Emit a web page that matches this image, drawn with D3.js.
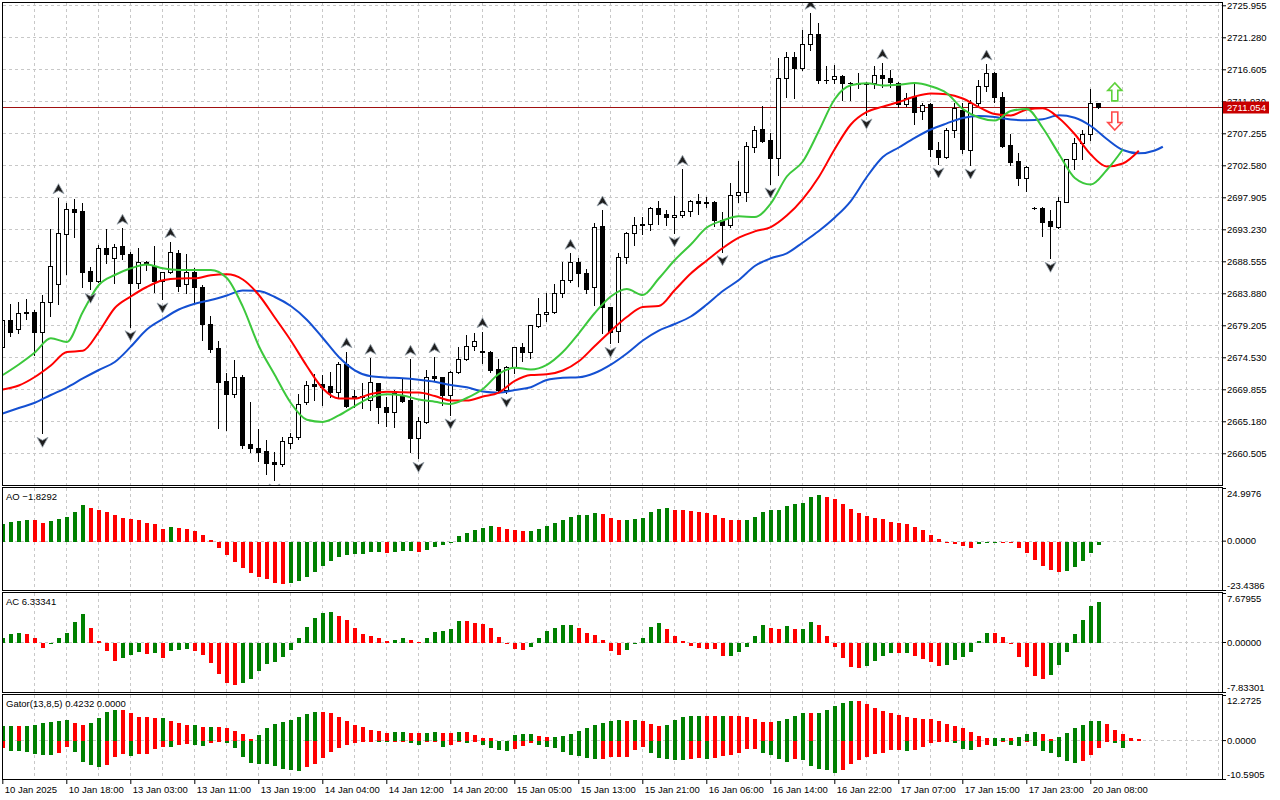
<!DOCTYPE html>
<html>
<head>
<meta charset="utf-8">
<script src="https://cdn.jsdelivr.net/npm/d3@7"></script>
<style>
html, body { margin: 0; padding: 0; background: #fff; }
svg { display: block; font-family: "Liberation Sans", Arial, sans-serif; }
</style>
</head>
<body>
<svg id="chart" width="1280" height="800"></svg>
<script>
// XAUUSD H1 – candles, Alligator, Fractals, AO, AC, Gator

var open = [2676.08,2679.98,2678.62,2681.19,2681.19,2678.27,2682.56,2685.19,2692.50,2696.15,
  2695.90,2687.14,2685.72,2690.45,2688.99,2690.79,2689.58,2685.43,2688.26,2687.91,
  2685.68,2686.95,2689.72,2685.19,2686.95,2684.76,2679.35,2675.84,2671.11,2669.12,
  2671.61,2661.82,2661.23,2660.84,2659.28,2658.90,2661.96,2662.93,2667.95,2670.58,
  2670.63,2670.38,2669.50,2673.55,2668.87,2668.77,2668.29,2670.73,2667.22,2666.58,
  2669.02,2668.29,2662.78,2665.12,2671.80,2671.61,2669.02,2672.34,2674.24,2676.22,
  2675.45,2675.35,2672.78,2669.75,2673.16,2675.99,2675.35,2679.15,2680.85,2681.19,
  2683.88,2685.82,2688.41,2686.80,2684.76,2693.71,2681.83,2678.41,2689.14,2692.64,
  2693.96,2693.96,2696.30,2695.42,2694.98,2695.32,2695.95,2697.36,2697.26,2697.26,
  2694.59,2693.86,2698.24,2698.72,2705.30,2707.88,2706.28,2703.60,2715.29,2718.36,
  2716.84,2720.30,2721.76,2715.09,2715.14,2715.67,2714.56,2714.56,2714.60,2714.65,
  2715.77,2715.29,2714.65,2711.54,2712.51,2710.51,2711.49,2704.81,2703.84,2707.74,
  2710.66,2704.81,2711.64,2714.21,2716.11,2712.51,2705.50,2703.21,2700.68,2696.39,
  2696.30,2694.44,2693.61,2697.26,2703.46,2705.88,2707.11,2711.64];

var high = [2680.27,2682.27,2682.56,2683.00,2681.44,2683.63,2693.23,2697.85,2697.03,2697.61,
  2697.03,2687.77,2690.94,2693.23,2691.08,2693.38,2689.96,2690.45,2688.64,2690.79,
  2687.04,2691.42,2690.20,2689.58,2687.62,2685.09,2680.61,2676.95,2672.19,2674.13,
  2671.94,2667.95,2664.05,2662.45,2660.74,2662.93,2663.42,2669.17,2671.07,2672.09,
  2671.94,2672.43,2673.89,2675.35,2669.75,2670.73,2674.38,2670.77,2668.77,2669.75,
  2671.46,2674.24,2665.85,2672.68,2674.62,2671.69,2672.57,2676.08,2677.79,2678.03,
  2678.27,2675.49,2674.24,2673.26,2676.08,2676.66,2679.25,2683.15,2683.97,2685.24,
  2688.50,2689.72,2688.99,2687.43,2694.19,2696.05,2681.92,2689.72,2692.88,2695.07,
  2694.98,2696.53,2697.36,2696.05,2698.09,2702.00,2697.51,2698.39,2697.90,2697.36,
  2695.80,2699.95,2703.21,2706.03,2708.32,2711.24,2707.25,2718.21,2719.09,2719.18,
  2722.35,2724.79,2723.33,2717.13,2717.23,2715.77,2714.79,2716.11,2714.79,2717.09,
  2717.53,2716.50,2714.79,2713.19,2714.56,2711.64,2711.64,2706.03,2707.99,2711.64,
  2711.64,2712.12,2715.04,2717.38,2716.25,2713.24,2707.11,2704.33,2702.48,2696.53,
  2696.44,2696.05,2697.90,2703.50,2706.52,2707.74,2713.68,2711.64];

var low = [2675.89,2677.68,2678.03,2680.12,2674.86,2663.42,2680.61,2682.27,2686.65,2692.15,
  2684.84,2684.46,2685.53,2688.35,2685.34,2688.85,2679.00,2684.61,2687.28,2684.11,
  2683.05,2686.89,2684.21,2683.88,2682.56,2677.06,2675.35,2664.16,2663.91,2668.77,
  2661.23,2660.74,2659.38,2657.44,2656.60,2658.69,2661.23,2662.55,2667.66,2668.29,
  2667.56,2668.77,2668.77,2667.31,2667.31,2667.08,2666.83,2664.89,2664.49,2664.39,
  2668.04,2660.74,2659.77,2664.97,2671.22,2667.56,2666.10,2672.19,2674.13,2675.60,
  2673.65,2672.43,2669.50,2669.27,2672.19,2674.03,2674.38,2679.00,2679.83,2681.05,
  2683.38,2685.57,2684.99,2683.97,2682.17,2678.12,2676.57,2676.81,2688.35,2690.94,
  2692.50,2693.13,2693.96,2693.86,2692.73,2695.07,2695.17,2695.46,2696.53,2693.71,
  2689.96,2693.52,2697.26,2697.41,2704.57,2706.03,2699.85,2701.16,2712.60,2712.37,
  2716.50,2719.42,2714.65,2714.65,2714.65,2712.12,2712.12,2713.83,2709.93,2713.83,
  2713.98,2713.98,2711.14,2711.24,2708.61,2709.30,2703.94,2702.77,2703.60,2706.76,
  2704.42,2702.62,2711.39,2713.48,2711.87,2705.30,2702.62,2699.70,2698.87,2696.20,
  2692.29,2688.99,2693.46,2697.26,2702.00,2703.46,2706.28,2710.91];

var close = [2679.98,2678.27,2680.96,2680.96,2678.27,2682.56,2687.91,2692.64,2696.15,2695.80,
  2687.04,2685.72,2690.45,2689.58,2690.69,2689.58,2685.43,2688.41,2688.45,2685.68,
  2686.95,2689.87,2684.99,2686.95,2684.76,2679.35,2675.74,2670.96,2669.12,2671.69,
  2661.72,2661.23,2660.74,2659.13,2658.90,2662.30,2662.93,2667.66,2670.48,2670.34,
  2670.23,2669.50,2673.55,2667.41,2668.54,2668.83,2670.88,2667.22,2666.58,2669.27,
  2668.19,2662.78,2665.22,2671.61,2671.46,2669.02,2672.34,2674.24,2676.22,2676.95,
  2675.30,2672.68,2669.75,2673.16,2675.99,2675.35,2679.25,2680.85,2681.19,2683.88,
  2685.82,2688.41,2686.80,2684.46,2693.61,2681.83,2678.27,2689.14,2692.64,2693.86,
  2693.81,2696.30,2695.42,2694.98,2695.32,2695.90,2697.36,2697.03,2697.03,2694.59,
  2693.86,2698.24,2698.72,2705.40,2707.74,2706.17,2703.60,2715.29,2718.36,2716.75,
  2720.26,2721.76,2715.04,2715.04,2715.67,2714.56,2714.53,2714.50,2714.50,2715.77,
  2715.29,2714.71,2711.54,2712.46,2710.41,2711.39,2704.92,2703.84,2707.74,2710.91,
  2704.92,2711.64,2714.21,2716.02,2712.51,2705.40,2703.11,2700.68,2702.29,2696.39,
  2694.34,2693.71,2697.41,2703.50,2705.88,2707.11,2711.64,2711.054];

// Alligator lines, read every 2 bars (lips shifted 3, teeth 5, jaw 8)
var lineStep = 2;
var lips = [2671.94,2673.48,2675.23,2677.30,2676.76,2681.15,2685.09,2686.55,2687.53,2688.09,
  2687.53,2687.28,2687.28,2687.28,2686.11,2681.92,2676.18,2671.94,2667.85,2665.40,
  2665.08,2666.03,2667.41,2668.68,2669.12,2668.95,2668.36,2668.03,2667.71,2668.58,
  2669.90,2672.09,2673.01,2672.75,2673.43,2675.30,2678.03,2681.00,2683.41,2684.50,
  2683.63,2686.04,2688.74,2691.01,2693.49,2694.51,2695.13,2695.02,2697.00,2700.94,
  2703.13,2707.59,2712.26,2714.26,2714.56,2714.24,2714.35,2714.60,2714.12,2713.11,
  2710.80,2709.56,2709.12,2710.51,2710.80,2708.03,2704.26,2700.72,2699.77,2701.89,
  2704.89];
var teeth = [2669.82,2670.41,2671.65,2673.33,2675.30,2675.48,2678.22,2681.73,2683.41,2684.80,
  2685.78,2686.05,2686.07,2686.51,2686.65,2685.89,2683.63,2680.34,2676.98,2673.26,
  2669.97,2668.52,2668.49,2669.17,2669.49,2669.41,2669.38,2668.87,2668.22,2668.20,
  2668.80,2669.38,2671.07,2671.94,2672.04,2672.60,2673.94,2676.18,2678.37,2680.41,
  2681.87,2682.02,2684.36,2686.77,2688.67,2690.49,2692.00,2692.92,2693.56,2695.24,
  2697.65,2700.87,2704.96,2708.54,2710.38,2711.15,2711.82,2712.63,2713.07,2712.95,
  2712.34,2711.09,2710.07,2709.85,2710.73,2710.90,2709.49,2707.11,2704.15,2702.40,
  2702.84,2704.71];
var jaw = [2666.32,2667.12,2667.88,2669.02,2670.11,2671.43,2672.67,2673.84,2676.08,2678.59,
  2680.12,2681.51,2682.36,2682.90,2683.56,2684.29,2684.21,2683.34,2682.02,2680.02,
  2677.35,2674.57,2672.63,2671.75,2671.58,2671.46,2671.24,2670.95,2670.48,2670.15,
  2669.53,2669.36,2669.75,2670.15,2671.21,2671.53,2671.61,2672.23,2673.45,2675.08,
  2676.98,2678.44,2679.39,2680.49,2682.24,2684.21,2685.82,2687.87,2688.99,2689.71,
  2691.30,2692.98,2694.95,2697.36,2700.87,2703.79,2705.18,2706.60,2707.81,2708.70,
  2709.49,2709.78,2709.63,2709.27,2709.15,2709.30,2709.88,2709.53,2708.32,2706.42,
  2704.81,2704.33,2704.74];
var jawLastBar = 145, jawLast = 2705.29;

var fractalUp = [7,15,21,43,46,51,54,60,71,75,85,101,110,123];
var fractalDown = [5,11,16,20,34,52,56,63,76,84,90,96,108,117,121,131];

var ao = [7.8,9.0,9.5,9.8,9.6,8.5,9.3,10.3,11.4,13.7,
  16.7,15.7,14.7,13.7,12.1,10.9,10.3,9.6,8.2,7.7,
  5.7,6.4,5.9,5.4,4.4,2.9,0.5,-2.8,-6.5,-9.8,
  -12.6,-15.0,-16.7,-17.6,-19.6,-19.9,-19.7,-18.5,-16.8,-14.2,
  -11.8,-9.3,-7.4,-6.2,-5.9,-5.7,-4.9,-4.8,-5.4,-4.9,
  -4.4,-4.3,-4.9,-3.8,-2.5,-1.5,-0.5,2.0,3.6,4.9,
  5.9,6.9,6.4,5.7,4.9,4.4,4.5,5.7,7.0,8.5,
  9.8,11.4,12.1,12.4,12.9,12.7,10.9,9.8,9.9,10.3,
  10.9,13.4,15.2,15.3,14.7,14.6,14.2,13.7,13.2,12.4,
  10.9,9.8,9.7,9.8,11.4,13.7,14.4,14.7,16.5,17.2,
  18.1,20.8,21.6,20.8,19.6,17.6,15.2,13.2,11.9,10.8,
  10.1,9.0,8.5,7.8,6.5,4.9,2.9,1.0,-0.1,-1.3,
  -2.1,-2.8,-1.3,-0.3,-0.1,-0.3,-0.8,-2.8,-5.6,-8.7,
  -11.4,-13.6,-14.4,-13.9,-11.9,-9.2,-5.2,-1.8292];

var ac = [0.58,1.27,1.42,1.27,0.58,-0.74,-0.21,0.58,1.42,3.1,
  4.43,2.21,0.1,-1.27,-2.85,-2.32,-1.90,-1.48,-1.69,-1.58,
  -2.32,-1.27,-1.11,-0.95,-1.27,-1.9,-3.11,-4.85,-6.33,-6.65,
  -6.33,-5.7,-4.43,-3.27,-3.01,-2.21,-1.11,0.58,2.37,3.8,
  4.59,4.64,4.11,3.48,2.21,1.27,1.0,0.63,0.16,0.32,
  0.63,0.32,0.02,0.58,1.58,1.69,2.06,3.32,3.30,2.95,
  2.85,2.16,0.79,-0.02,-1.0,-1.02,-0.58,0.63,1.69,2.21,
  2.69,2.70,2.21,1.42,1.11,0.32,-1.27,-1.9,-1.05,-0.16,
  0.58,2.37,2.95,2.06,0.95,0.1,-0.53,-0.84,-0.9,-1.0,
  -2.06,-2.0,-1.37,-0.58,0.95,2.69,2.21,2.06,2.53,2.06,
  2.1,3.16,2.69,0.95,-0.58,-2.32,-3.8,-3.9,-3.64,-2.85,
  -2.0,-1.53,-1.58,-1.55,-2.0,-2.48,-3.0,-3.64,-3.48,-2.69,
  -2.16,-1.37,0.1,1.37,1.36,0.74,-0.21,-2.16,-3.8,-5.22,
  -5.7,-5.06,-3.48,-1.37,1.27,3.48,5.7,6.33341];

var gatorUp = [3.72,3.73,3.70,3.9,4.0,4.56,4.93,5.11,5.39,4.74,
  4.0,4.56,6.04,7.53,8.15,8.1,7.25,6.23,6.2,5.95,
  5.97,5.11,4.74,4.0,4.02,3.53,3.55,3.44,3.16,2.51,
  1.67,0.37,1.49,3.16,4.28,4.83,5.39,6.23,7.07,7.62,
  7.6,7.35,6.23,5.11,4.0,3.44,2.88,2.6,2.05,2.32,
  2.33,2.05,2.04,2.06,2.32,2.05,2.04,2.32,2.30,1.49,
  0.65,0.64,0,0,1.49,1.77,1.78,1.21,0.93,0.95,
  1.21,1.77,2.6,3.16,4.0,4.56,5.11,5.39,5.11,5.4,
  5.11,4.28,3.72,4.0,5.39,6.23,6.51,6.52,6.5,6.49,
  6.5,6.49,6.48,6.23,5.67,4.83,4.82,5.11,5.67,6.51,
  7.35,7.34,7.35,8.18,9.3,10.13,10.69,10.68,9.86,8.74,
  7.9,7.35,6.79,6.23,5.95,5.67,5.66,5.11,4.28,3.72,
  3.16,2.32,1.21,0.65,0.66,0.67,0.65,0.93,1.77,2.32,
  1.77,0.37,0.93,2.05,3.16,4.0,5.11,5.12,4.28,2.88,
  1.77,0.65,0.4232];

var gatorDown = [-1.95,-2.6,-2.62,-2.88,-3.53,-3.81,-3.83,-3.25,-1.49,-3.07,
  -5.77,-6.6,-7.07,-6.6,-4.46,-3.63,-4.0,-3.53,-3.5,-2.05,
  -1.49,-1.5,-1.12,-0.74,-0.93,-1.21,-0.65,-0.1,-0.56,-1.95,
  -4.28,-6.04,-6.32,-6.33,-6.79,-7.53,-7.81,-8.18,-6.97,-6.32,
  -4.56,-2.88,-1.77,-0.93,-0.65,-0.1,-0.08,-0.19,-0.37,-0.1,
  -0.09,-0.65,-0.93,-0.37,-0.36,-1.49,-0.93,-0.37,-0.65,-0.1,
  -0.93,-1.77,-2.32,-2.6,-2.14,-1.21,-0.65,-0.93,-1.49,-1.77,
  -2.88,-3.72,-4.0,-4.56,-4.84,-4.83,-4.28,-4.27,-4.26,-2.32,
  -1.49,-3.16,-4.56,-4.84,-5.11,-5.12,-4.84,-4.56,-4.84,-4.56,
  -4.0,-3.72,-3.16,-2.05,-2.04,-3.16,-3.72,-4.84,-5.67,-4.84,
  -5.11,-6.79,-7.62,-7.9,-8.74,-7.9,-6.23,-5.11,-4.28,-3.44,
  -3.16,-2.32,-2.31,-2.6,-2.32,-1.49,-0.65,-0.1,-0.05,-0.65,
  -2.05,-2.32,-1.49,-0.93,-1.21,-0.1,-0.93,-1.21,-0.1,-1.21,
  -2.6,-3.16,-4.28,-5.39,-5.95,-5.39,-3.72,-1.77,-0.37,-0.65,
  -1.77];

var priceTicks = [2660.505,2665.180,2669.855,2674.530,2679.205,2683.880,2688.555,2693.230,
  2697.905,2702.580,2707.255,2711.930,2716.605,2721.280,2725.955];
var priceMin = 2655.87, priceMax = 2726.29;
var lastPrice = 2711.054;

var timeLabels = ["10 Jan 2025","10 Jan 18:00","13 Jan 03:00","13 Jan 11:00","13 Jan 19:00",
  "14 Jan 04:00","14 Jan 12:00","14 Jan 20:00","15 Jan 05:00","15 Jan 13:00","15 Jan 21:00",
  "16 Jan 06:00","16 Jan 14:00","16 Jan 22:00","17 Jan 07:00","17 Jan 15:00","17 Jan 23:00",
  "20 Jan 08:00"];
var barsPerLabel = 8;

var aoRange = [-23.4386, 24.9976], aoTicks = ["24.9976","0.0000","-23.4386"];
var acRange = [-7.83301, 7.67955], acTicks = ["7.67955","0.00000","-7.83301"];
var gatorRange = [-10.5905, 12.2725], gatorTicks = ["12.2725","0.0000","-10.5905"];

var signalBar = 139, buyArrowPrice = 2713.3, sellArrowPrice = 2709.05;

// ---------------------------------------------------------------
var svg = d3.select('#chart');
var left = 2.5, right = 1222;
var GREEN = '#008000', RED = '#ff0000';
var grid = '#c8c8c8';

var x = d3.scaleLinear().domain([0, 152]).range([2.3, 1218.3]);
function px(i) { return Math.round(x(i)); }

var panels = [
  {id: 'main', top: 3, bottom: 485},
  {id: 'ao', top: 488, bottom: 590},
  {id: 'ac', top: 593, bottom: 692},
  {id: 'gator', top: 695, bottom: 779}
];

var defs = svg.append('defs');
panels.forEach(function(p) {
  defs.append('clipPath').attr('id', 'clip-' + p.id)
    .append('rect').attr('x', left).attr('y', p.top)
    .attr('width', right - left).attr('height', p.bottom - p.top);
});

// vertical grid every 4 bars in all panels
var vGrid = d3.range(4, 153, 4).filter(function(i) { return x(i) < right - 1; });
panels.forEach(function(p) {
  svg.append('g').selectAll('line').data(vGrid).enter().append('line')
    .attr('x1', function(d) { return px(d) + 0.5; })
    .attr('x2', function(d) { return px(d) + 0.5; })
    .attr('y1', p.top).attr('y2', p.bottom)
    .attr('stroke', grid).attr('stroke-dasharray', '3,3')
    .attr('shape-rendering', 'crispEdges');
});

// ---------------- main panel ----------------
var y = d3.scaleLinear().domain([priceMin, priceMax]).range([485, 3]);

svg.append('g').selectAll('line').data(priceTicks).enter().append('line')
  .attr('x1', left).attr('x2', right)
  .attr('y1', function(d) { return Math.round(y(d)) + 0.5; })
  .attr('y2', function(d) { return Math.round(y(d)) + 0.5; })
  .attr('stroke', grid).attr('stroke-dasharray', '3,3')
  .attr('shape-rendering', 'crispEdges');

var main = svg.append('g').attr('clip-path', 'url(#clip-main)');

// last price line
main.append('line')
  .attr('x1', left).attr('x2', right)
  .attr('y1', Math.round(y(lastPrice)) + 0.5).attr('y2', Math.round(y(lastPrice)) + 0.5)
  .attr('stroke', '#a01010').attr('stroke-width', 1)
  .attr('shape-rendering', 'crispEdges');

var candles = main.append('g').attr('shape-rendering', 'crispEdges');
open.forEach(function(o, i) {
  var c = close[i], cx = px(i);
  candles.append('line')
    .attr('x1', cx + 0.5).attr('x2', cx + 0.5)
    .attr('y1', Math.round(y(high[i]))).attr('y2', Math.round(y(low[i])) + 1)
    .attr('stroke', '#000');
  var yt = Math.round(y(Math.max(o, c))), yb = Math.round(y(Math.min(o, c)));
  if (yb - yt < 1) {
    candles.append('line')
      .attr('x1', cx - 2).attr('x2', cx + 3)
      .attr('y1', yt + 0.5).attr('y2', yt + 0.5)
      .attr('stroke', '#000');
  } else {
    candles.append('rect')
      .attr('x', cx - 1.5).attr('y', yt + 0.5)
      .attr('width', 4).attr('height', yb - yt)
      .attr('fill', c > o ? '#fff' : '#000')
      .attr('stroke', '#000');
  }
});

// alligator
function linePoints(vals) {
  return vals.map(function(v, k) { return {i: k * lineStep, v: v}; });
}
var alligator = d3.line()
  .x(function(d) { return x(d.i) + 0.5; })
  .y(function(d) { return y(d.v); })
  .curve(d3.curveMonotoneX);

var jawPts = linePoints(jaw).concat([{i: jawLastBar, v: jawLast}]);
main.append('path').attr('d', alligator(jawPts))
  .attr('fill', 'none').attr('stroke', '#1450d2').attr('stroke-width', 2);
main.append('path').attr('d', alligator(linePoints(teeth)))
  .attr('fill', 'none').attr('stroke', '#ff0000').attr('stroke-width', 2);
main.append('path').attr('d', alligator(linePoints(lips)))
  .attr('fill', 'none').attr('stroke', '#3cc83c').attr('stroke-width', 2);

// fractals
var fr = main.append('g');
fractalUp.forEach(function(i) {
  fr.append('path')
    .attr('transform', 'translate(' + (px(i) + 0.5) + ',' + (y(high[i]) - 9) + ')')
    .attr('d', 'M0,-5 L5.5,5 L0,2 L-5.5,5 Z')
    .attr('fill', '#1e1e1e').attr('stroke', '#9aa6b0').attr('stroke-width', 0.8);
});
fractalDown.forEach(function(i) {
  fr.append('path')
    .attr('transform', 'translate(' + (px(i) + 0.5) + ',' + (y(low[i]) + 9) + ')')
    .attr('d', 'M0,5 L5.5,-5 L0,-2 L-5.5,-5 Z')
    .attr('fill', '#1e1e1e').attr('stroke', '#9aa6b0').attr('stroke-width', 0.8);
});

// signal arrows
main.append('path')
  .attr('transform', 'translate(' + (x(signalBar) + 0.5) + ',' + y(buyArrowPrice) + ')')
  .attr('d', 'M0,-9 L7,-1.5 L3,-1.5 L3,9 L-3,9 L-3,-1.5 L-7,-1.5 Z')
  .attr('fill', '#fff').attr('stroke', '#5fd23c').attr('stroke-width', 1.6);
main.append('path')
  .attr('transform', 'translate(' + (x(signalBar) + 0.5) + ',' + y(sellArrowPrice) + ')')
  .attr('d', 'M0,9 L7,1.5 L3,1.5 L3,-9 L-3,-9 L-3,1.5 L-7,1.5 Z')
  .attr('fill', '#fff').attr('stroke', '#ff4a4a').attr('stroke-width', 1.6);

// price axis
var yAxis = svg.append('g').attr('transform', 'translate(' + right + ',0)')
  .call(d3.axisRight(y).tickValues(priceTicks).tickFormat(d3.format('.3f'))
    .tickSize(4).tickPadding(1));
yAxis.select('.domain').remove();
yAxis.selectAll('text').attr('font-size', '9.5px').attr('font-family', '"Liberation Sans", Arial, sans-serif');

svg.append('rect')
  .attr('x', right + 1).attr('y', Math.round(y(lastPrice)) - 5.5)
  .attr('width', 46).attr('height', 12).attr('fill', '#c80000');
svg.append('text')
  .attr('x', right + 5).attr('y', Math.round(y(lastPrice)) + 4)
  .attr('fill', '#fff').attr('font-size', '9.5px')
  .text(d3.format('.3f')(lastPrice));

// ---------------- indicator panels ----------------
function rising(vals, i) {
  if (i === 0) return true;
  return Math.abs(vals[i]) > Math.abs(vals[i - 1]);
}
function up(vals, i) {
  if (i === 0) return true;
  return vals[i] > vals[i - 1];
}

function indicatorPanel(p, range, tickLabels, series, label) {
  var sc = d3.scaleLinear().domain(range).range([p.bottom, p.top]);
  var z = Math.round(sc(0));
  svg.append('line').attr('x1', left).attr('x2', right)
    .attr('y1', z + 0.5).attr('y2', z + 0.5)
    .attr('stroke', grid).attr('stroke-dasharray', '3,3')
    .attr('shape-rendering', 'crispEdges');
  var g = svg.append('g').attr('clip-path', 'url(#clip-' + p.id + ')')
    .attr('shape-rendering', 'crispEdges');
  series.forEach(function(s) {
    var bars = s.values.map(function(v, i) {
      return {i: i, v: v, green: (i === 0 && s.firstGreen !== undefined) ? s.firstGreen : s.color(s.values, i)};
    }).filter(function(d) { return d.v !== 0; });
    g.append('g').selectAll('rect').data(bars).enter().append('rect')
      .attr('x', function(d) { return px(d.i) - 1; })
      .attr('width', 4)
      .attr('y', function(d) { return d.v >= 0 ? Math.round(sc(d.v)) : z + 1; })
      .attr('height', function(d) {
        return Math.max(1, d.v >= 0 ? z + 1 - Math.round(sc(d.v)) : Math.round(sc(d.v)) - z);
      })
      .attr('fill', function(d) { return d.green ? GREEN : RED; });
  });
  var ax = svg.append('g').attr('transform', 'translate(' + right + ',0)')
    .call(d3.axisRight(sc).tickValues([range[1], 0, range[0]])
      .tickFormat(function(d, i) { return tickLabels[i]; })
      .tickSize(4).tickPadding(1));
  ax.select('.domain').remove();
  ax.selectAll('text').attr('font-size', '9.5px')
    .attr('font-family', '"Liberation Sans", Arial, sans-serif')
    .attr('transform', function(d, i) { return i === 0 ? 'translate(0,5)' : (i === 2 ? 'translate(0,-5)' : null); });
  svg.append('text').attr('x', 6).attr('y', p.top + 12)
    .attr('font-size', '9.5px').text(label);
}

indicatorPanel(panels[1], aoRange, aoTicks, [{values: ao, color: up}],
  'AO ' + d3.format('.4f')(ao[ao.length - 1]));
indicatorPanel(panels[2], acRange, acTicks, [{values: ac, color: up}],
  'AC ' + d3.format('.5f')(ac[ac.length - 1]));
indicatorPanel(panels[3], gatorRange, gatorTicks,
  [{values: gatorUp, color: rising}, {values: gatorDown, color: rising, firstGreen: false}],
  'Gator(13,8,5) ' + d3.format('.4f')(gatorUp[gatorUp.length - 1]) + ' 0.0000');

// panel borders
panels.forEach(function(p) {
  svg.append('rect').attr('x', left).attr('y', p.top - 0.5)
    .attr('width', right - left).attr('height', p.bottom - p.top + 0.5)
    .attr('fill', 'none').attr('stroke', '#000').attr('stroke-width', 1)
    .attr('shape-rendering', 'crispEdges');
});

// time axis
var labelBars = timeLabels.map(function(t, k) { return k * barsPerLabel; });
var xAxis = svg.append('g').attr('transform', 'translate(0,779)')
  .call(d3.axisBottom(x).tickValues(labelBars)
    .tickFormat(function(d, i) { return timeLabels[i]; })
    .tickSize(5).tickPadding(2));
xAxis.select('.domain').remove();
xAxis.selectAll('text').attr('text-anchor', 'start').attr('dx', '2')
  .attr('font-size', '9.5px').attr('font-family', '"Liberation Sans", Arial, sans-serif');
</script>
</body>
</html>
